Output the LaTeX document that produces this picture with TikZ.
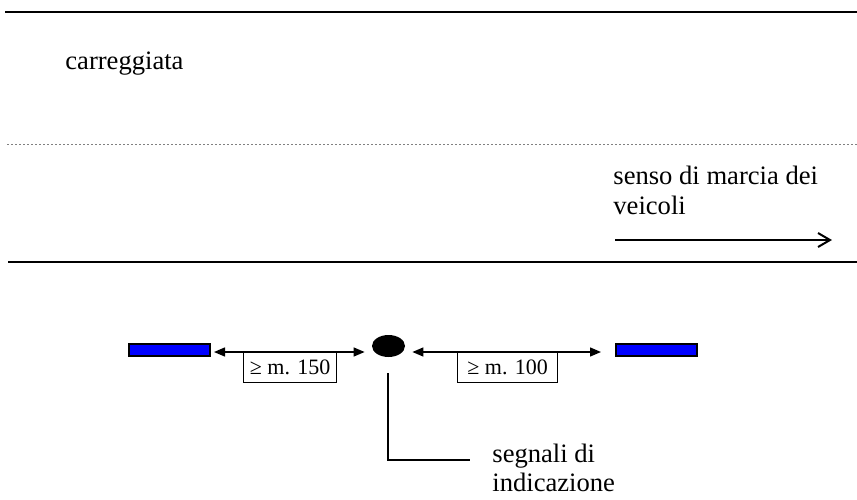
\documentclass[tikz,border=0pt]{standalone}
\usepackage{fontspec}
\setmainfont{Liberation Serif}
\usetikzlibrary{calc,arrows.meta,shapes.geometric}

\begin{document}
\begin{tikzpicture}[x=0.5pt,y=-0.5pt,
  testo/.style={font=\fontsize{13.3}{15}\selectfont,inner sep=0pt,anchor=base west,align=left},
  quota/.style={draw,line width=0.6pt,anchor=north west,font=\fontsize{11}{13}\selectfont,
    inner xsep=1pt,inner ysep=0pt,minimum height=15pt,align=left},
  segnale/.style={draw,fill=blue,line width=1pt,minimum width=40.5pt,minimum height=6pt,inner sep=0pt},
  bordo/.style={line width=1.4pt},
  distanza/.style={line width=0.7pt,{Triangle[length=5.5pt,width=4.5pt]}-{Triangle[length=5.5pt,width=4.5pt]}}]
\useasboundingbox (0,0) rectangle (857,499);

% carreggiata
\coordinate (T1) at (5,12);
\coordinate (T2) at (857,12);
\coordinate (M1) at (7,144.5);
\coordinate (M2) at (857,144.5);
\coordinate (B1) at (8,262);
\coordinate (B2) at (857,262);
\draw[bordo] (T1) -- (T2);
\draw[gray,line width=0.6pt,dash pattern=on 1pt off 1pt] (M1) -- (M2);
\draw[bordo] (B1) -- (B2);
\node[testo] (carr) at (65,69) {carreggiata};
% base = ultima riga
\node[testo] (senso) at (613,214) {senso di marcia dei\\veicoli};
\coordinate (S1) at (615,240);
\coordinate (S2) at (832,240);
\draw[line width=1pt,-{Straight Barb[length=6pt,width=7pt]}] (S1) -- (S2);

% segnali
\node[segnale] (sx) at (169.5,350) {};
\node[segnale] (dx) at (656.5,350) {};
\node[ellipse,fill=black,minimum width=16.5pt,minimum height=11pt,inner sep=0pt] (punto) at (388.5,346) {};
\draw[distanza] ($(sx.east)+(3,2)$) -- ($(punto.west |- sx.east)+(-7,2)$);
\draw[distanza] ($(punto.east |- dx.west)+(7,2)$) -- ($(dx.west)+(-14,2)$);
\node[quota,minimum width=46.5pt] (q150) at (243,352) {≥ m. 150};
\node[quota,minimum width=50pt] (q100) at (457,352) {≥ m. 100};

% richiamo
\coordinate (R1) at (388,373);
\coordinate (R2) at (470,460);
\draw[line width=1pt] (R1) |- (R2);
\node[testo,font=\fontsize{13.3}{14.5}\selectfont] (nota) at (492,491) {segnali di\\indicazione};
\end{tikzpicture}
\end{document}
